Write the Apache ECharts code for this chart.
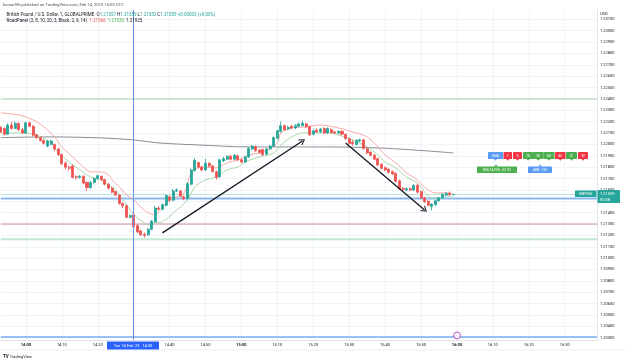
<!DOCTYPE html>
<html>
<head>
<meta charset="utf-8">
<script src="https://cdn.jsdelivr.net/npm/echarts@6/dist/echarts.min.js"></script>
<style>
  html, body { margin: 0; padding: 0; background: #fff; }
  #chart { width: 625px; height: 362px; }
</style>
</head>
<body>
<div id="chart"></div>
<script>
// 1-minute GBPUSD, 13:53 -> 15:59 candles, axis runs on to 16:39
const minutes = [];
for (let m = 13 * 60 + 53; m <= 16 * 60 + 39; m++) {
  minutes.push(String(Math.floor(m / 60)).padStart(2, '0') + ':' + String(m % 60).padStart(2, '0'));
}

// [open, close, low, high]
const candles = [
  [1.22150, 1.22110, 1.22100, 1.22160], [1.22140, 1.22090, 1.22080, 1.22150], [1.22090, 1.22170, 1.22085, 1.22185],
  [1.22170, 1.22140, 1.22130, 1.22200], [1.22140, 1.22185, 1.22135, 1.22205], [1.22185, 1.22130, 1.22120, 1.22195],
  [1.22130, 1.22100, 1.22095, 1.22145], [1.22100, 1.22190, 1.22090, 1.22200], [1.22190, 1.22160, 1.22150, 1.22200],
  [1.22160, 1.22080, 1.22070, 1.22170], [1.22085, 1.22060, 1.22050, 1.22090], [1.22060, 1.22035, 1.22025, 1.22070],
  [1.22035, 1.22010, 1.22000, 1.22045], [1.21985, 1.22030, 1.21975, 1.22040], [1.22000, 1.22030, 1.21990, 1.22040],
  [1.22000, 1.21960, 1.21940, 1.22010], [1.21960, 1.21910, 1.21900, 1.21970], [1.21910, 1.21830, 1.21820, 1.21920],
  [1.21835, 1.21800, 1.21780, 1.21850], [1.21800, 1.21790, 1.21770, 1.21810], [1.21810, 1.21710, 1.21700, 1.21820],
  [1.21715, 1.21710, 1.21690, 1.21730], [1.21710, 1.21720, 1.21700, 1.21730], [1.21720, 1.21660, 1.21650, 1.21730],
  [1.21665, 1.21620, 1.21590, 1.21675], [1.21620, 1.21665, 1.21610, 1.21680], [1.21665, 1.21700, 1.21655, 1.21710],
  [1.21700, 1.21725, 1.21690, 1.21735], [1.21720, 1.21690, 1.21680, 1.21725], [1.21690, 1.21650, 1.21640, 1.21700],
  [1.21650, 1.21615, 1.21605, 1.21660], [1.21615, 1.21580, 1.21570, 1.21625], [1.21585, 1.21555, 1.21545, 1.21590],
  [1.21555, 1.21480, 1.21470, 1.21560], [1.21480, 1.21460, 1.21440, 1.21490], [1.21460, 1.21360, 1.21350, 1.21470],
  [1.21360, 1.21375, 1.21350, 1.21385], [1.21380, 1.21275, 1.21265, 1.21390], [1.21285, 1.21230, 1.21220, 1.21300],
  [1.21240, 1.21205, 1.21195, 1.21250], [1.21210, 1.21200, 1.21180, 1.21225], [1.21205, 1.21255, 1.21195, 1.21265],
  [1.21255, 1.21325, 1.21245, 1.21335], [1.21320, 1.21440, 1.21310, 1.21460], [1.21440, 1.21430, 1.21420, 1.21455],
  [1.21430, 1.21470, 1.21420, 1.21480], [1.21465, 1.21550, 1.21455, 1.21560], [1.21540, 1.21510, 1.21495, 1.21550],
  [1.21510, 1.21590, 1.21500, 1.21610], [1.21590, 1.21600, 1.21580, 1.21615], [1.21590, 1.21545, 1.21535, 1.21600],
  [1.21540, 1.21520, 1.21510, 1.21550], [1.21525, 1.21655, 1.21515, 1.21665], [1.21650, 1.21775, 1.21640, 1.21790],
  [1.21770, 1.21860, 1.21760, 1.21880], [1.21840, 1.21800, 1.21790, 1.21850], [1.21800, 1.21775, 1.21765, 1.21810],
  [1.21775, 1.21835, 1.21770, 1.21875], [1.21835, 1.21810, 1.21800, 1.21840], [1.21810, 1.21760, 1.21755, 1.21820],
  [1.21760, 1.21710, 1.21690, 1.21770], [1.21715, 1.21865, 1.21705, 1.21875], [1.21855, 1.21875, 1.21845, 1.21890],
  [1.21870, 1.21895, 1.21860, 1.21905], [1.21895, 1.21870, 1.21860, 1.21910], [1.21870, 1.21905, 1.21860, 1.21915],
  [1.21900, 1.21865, 1.21855, 1.21910], [1.21865, 1.21845, 1.21835, 1.21875], [1.21845, 1.21890, 1.21835, 1.21900],
  [1.21890, 1.21965, 1.21880, 1.21975], [1.21960, 1.21985, 1.21950, 1.21995], [1.21980, 1.21945, 1.21935, 1.21990],
  [1.21950, 1.21930, 1.21920, 1.21960], [1.21955, 1.21910, 1.21900, 1.21965], [1.21915, 1.21960, 1.21905, 1.21970],
  [1.21960, 1.21985, 1.21950, 1.21995], [1.21985, 1.22060, 1.21975, 1.22070], [1.22055, 1.22120, 1.22045, 1.22130],
  [1.22115, 1.22165, 1.22105, 1.22200], [1.22165, 1.22130, 1.22120, 1.22175], [1.22135, 1.22150, 1.22125, 1.22165],
  [1.22160, 1.22145, 1.22135, 1.22170], [1.22145, 1.22165, 1.22135, 1.22180], [1.22160, 1.22180, 1.22150, 1.22190],
  [1.22165, 1.22185, 1.22160, 1.22210], [1.22180, 1.22155, 1.22145, 1.22190], [1.22155, 1.22085, 1.22075, 1.22165],
  [1.22090, 1.22120, 1.22080, 1.22130], [1.22125, 1.22110, 1.22100, 1.22140], [1.22110, 1.22135, 1.22100, 1.22145],
  [1.22140, 1.22100, 1.22090, 1.22150], [1.22100, 1.22140, 1.22095, 1.22150], [1.22130, 1.22105, 1.22095, 1.22140],
  [1.22110, 1.22100, 1.22090, 1.22120], [1.22100, 1.22115, 1.22090, 1.22125], [1.22115, 1.22090, 1.22080, 1.22125],
  [1.22090, 1.22050, 1.22040, 1.22095], [1.22050, 1.22010, 1.21975, 1.22060], [1.22020, 1.22005, 1.21990, 1.22040],
  [1.22000, 1.22035, 1.21990, 1.22045], [1.22030, 1.22040, 1.22020, 1.22050], [1.22040, 1.21965, 1.21955, 1.22050],
  [1.21965, 1.21925, 1.21915, 1.21975], [1.21930, 1.21905, 1.21895, 1.21940], [1.21905, 1.21870, 1.21860, 1.21915],
  [1.21875, 1.21820, 1.21810, 1.21885], [1.21825, 1.21790, 1.21780, 1.21835], [1.21795, 1.21775, 1.21765, 1.21805],
  [1.21780, 1.21755, 1.21745, 1.21790], [1.21760, 1.21740, 1.21730, 1.21770], [1.21745, 1.21675, 1.21665, 1.21755],
  [1.21680, 1.21610, 1.21600, 1.21690], [1.21615, 1.21605, 1.21590, 1.21625], [1.21600, 1.21610, 1.21590, 1.21620],
  [1.21610, 1.21600, 1.21590, 1.21620], [1.21600, 1.21640, 1.21590, 1.21650], [1.21640, 1.21580, 1.21570, 1.21655],
  [1.21585, 1.21530, 1.21520, 1.21595], [1.21530, 1.21495, 1.21485, 1.21540], [1.21500, 1.21465, 1.21455, 1.21510],
  [1.21455, 1.21475, 1.21420, 1.21480], [1.21470, 1.21505, 1.21460, 1.21515], [1.21505, 1.21530, 1.21495, 1.21540],
  [1.21530, 1.21560, 1.21520, 1.21570], [1.21555, 1.21570, 1.21545, 1.21580], [1.21570, 1.21557, 1.21550, 1.21585],
  [1.21557, 1.21559, 1.21552, 1.21559]
];

// RoadPanel bands, read at [bar index, price]
const upperBand = [
  [0, 1.22277], [5, 1.22259], [9, 1.22215], [12, 1.22154], [15, 1.22066], [17, 1.21978], [20, 1.21890],
  [23, 1.21802], [25, 1.21758], [28, 1.21758], [30, 1.21732], [31, 1.21688], [33, 1.21626], [35, 1.21556],
  [37, 1.21512], [39, 1.21450], [41, 1.21398], [43, 1.21380], [44, 1.21406], [47, 1.21512], [51, 1.21573],
  [53, 1.21749], [56, 1.21802], [60, 1.21793], [63, 1.21837], [66, 1.21863], [69, 1.21907], [73, 1.21934],
  [77, 1.22013], [78, 1.22101], [81, 1.22145], [85, 1.22154], [89, 1.22171], [94, 1.22145], [98, 1.22110],
  [102, 1.22066], [105, 1.21978], [107, 1.21907], [110, 1.21837], [113, 1.21749], [116, 1.21688],
  [118, 1.21626], [121, 1.21573], [124, 1.21573], [126, 1.21566]
];
const lowerBand = [
  [0, 1.22100], [5, 1.22100], [9, 1.22092], [14, 1.22013], [16, 1.21925], [19, 1.21846], [22, 1.21776],
  [25, 1.21714], [28, 1.21688], [30, 1.21644], [32, 1.21600], [34, 1.21512], [36, 1.21424], [38, 1.21354],
  [40, 1.21310], [41, 1.21292], [43, 1.21310], [45, 1.21319], [49, 1.21424], [52, 1.21512], [54, 1.21626],
  [57, 1.21688], [60, 1.21714], [63, 1.21776], [66, 1.21802], [68, 1.21846], [72, 1.21890], [76, 1.21925],
  [78, 1.21995], [81, 1.22066], [84, 1.22101], [88, 1.22101], [91, 1.22101], [94, 1.22083], [98, 1.22039],
  [102, 1.21978], [105, 1.21907], [107, 1.21846], [110, 1.21793], [113, 1.21714], [116, 1.21662],
  [118, 1.21582], [120, 1.21529], [122, 1.21529], [124, 1.21547], [126, 1.21530]
];
const slowLine = [
  [0, 1.22060], [14, 1.22066], [28, 1.22057], [37, 1.22039], [44, 1.22013], [55, 1.21995], [69, 1.21978],
  [91, 1.21978], [105, 1.21969], [115, 1.21951], [126, 1.21925]
];

// drawn horizontal levels and the current price
const levels = [1.22400, 1.21525, 1.21300, 1.21167, 1.20307];
const lastPrice = 1.21559;
const markedTime = '14:30';

// trend arrows [bar index, price] -> [bar index, price]
const arrows = [
  [[45, 1.21222], [84, 1.22030]],
  [[96, 1.22013], [118, 1.21424]]
];

const yTicks = [
  1.203, 1.204, 1.205, 1.206, 1.207, 1.208, 1.209, 1.210, 1.211, 1.212, 1.213, 1.214, 1.215, 1.216, 1.217,
  1.218, 1.219, 1.220, 1.221, 1.222, 1.223, 1.224, 1.225, 1.226, 1.227, 1.228, 1.229, 1.230, 1.231
];

const UP = '#26a69a', DOWN = '#ef5350';
const FONT = 'Roboto';
const isTenMin = (i, v) => Number(v.slice(3)) % 10 === 0;
const lastIndex = minutes.length - 1;

const levelStyles = [
  { color: '#a5d6a7', width: 1 },
  { color: '#8ab8f2', width: 2 },
  { color: '#c98ba6', width: 1 },
  { color: '#bdebd3', width: 2 },
  { color: '#7aaef2', width: 1.5 }
];

const chevron = 'path://M5,0 L10,8.6 L8.8,9.4 L5,2.6 L1.2,9.4 L0,8.6 Z';

const chart = echarts.init(document.getElementById('chart'), null, { renderer: 'canvas' });

// TradingView style overlays (legend text, panel, tags)
const txt = (x, y, text, o) => Object.assign({
  type: 'text', x: x, y: y, z: 100,
  style: Object.assign({ text: text, fill: '#131722', fontSize: 4, fontFamily: FONT, verticalAlign: 'middle' }, o || {})
});
const box = (x, y, w, h, fill) => ({ type: 'rect', z: 99, shape: { x: x, y: y, width: w, height: h, r: 0.6 }, style: { fill: fill } });

const panel = [
  ['SMA', 488, 15, '#5b9cf6'], ['1', 503.5, 8.5, '#f23645'], ['5', 513, 9, '#f23645'],
  ['15', 523, 10, '#4caf50'], ['30', 533, 10.5, '#4caf50'], ['60', 543.5, 11, '#4caf50'],
  ['4h', 555, 10.5, '#f23645'], ['D', 566, 11, '#4caf50'], ['W', 578, 10, '#f23645']
];
const panelGraphics = [];
panel.forEach(p => {
  panelGraphics.push(box(p[1], 152, p[2], 7, p[3]));
  panelGraphics.push({ type: 'polygon', z: 99, shape: { points: [[p[1] + p[2] / 2 - 1.5, 159], [p[1] + p[2] / 2 + 1.5, 159], [p[1] + p[2] / 2, 160.8]] }, style: { fill: p[3] } });
  panelGraphics.push(txt(p[1] + p[2] / 2, 155.6, p[0], { fill: '#fff', align: 'center', fontSize: 3.6 }));
});
panelGraphics.push(box(477, 166.5, 40, 6.5, '#4caf50'));
panelGraphics.push({ type: 'polygon', z: 99, shape: { points: [[494, 166.6], [498, 166.6], [496, 164.6]] }, style: { fill: '#4caf50' } });
panelGraphics.push(txt(497, 169.8, 'RSI(14/59): 52.92', { fill: '#fff', align: 'center', fontSize: 3.6 }));
panelGraphics.push(box(528, 166.5, 24, 6.5, '#5b9cf6'));
panelGraphics.push({ type: 'polygon', z: 99, shape: { points: [[538, 166.6], [542, 166.6], [540, 164.6]] }, style: { fill: '#5b9cf6' } });
panelGraphics.push(txt(540, 169.8, 'ADR: 133', { fill: '#fff', align: 'center', fontSize: 3.6 }));

// full-width horizontal lines, drawn as two-point line series
const levelSeries = levels.map((v, k) => ({
  type: 'line',
  data: [[0, v], [lastIndex, v]],
  showSymbol: false,
  silent: true,
  z: 1,
  lineStyle: { color: levelStyles[k].color, width: levelStyles[k].width }
}));
levelSeries.push({
  type: 'line',
  data: [[0, lastPrice], [lastIndex, lastPrice]],
  showSymbol: false,
  silent: true,
  z: 1,
  lineStyle: { color: '#b9e2de', width: 1 }
});

const option = {
  animation: false,
  backgroundColor: '#ffffff',
  grid: { left: 0.8, right: 28, top: 10, bottom: 22, outerBoundsMode: 'none' },
  xAxis: {
    type: 'category',
    data: minutes,
    boundaryGap: false,
    axisLine: { lineStyle: { color: '#e0e3eb', width: 1 } },
    axisTick: { show: false },
    axisLabel: {
      interval: (i, v) => isTenMin(i, v) && v !== markedTime,
      margin: 3,
      fontSize: 4,
      fontFamily: FONT,
      color: '#131722',
      formatter: v => v.endsWith(':00') ? '{b|' + v + '}' : v,
      rich: { b: { fontSize: 4, fontWeight: 'bold', fontFamily: FONT, color: '#131722' } }
    },
    splitLine: { show: true, interval: isTenMin, lineStyle: { color: '#f0f3fa', width: 1 } }
  },
  yAxis: {
    type: 'value',
    position: 'right',
    min: 1.20280,
    max: 1.23182,
    axisLine: { show: true, lineStyle: { color: '#e0e3eb' } },
    axisTick: { show: false, customValues: yTicks },
    axisLabel: {
      customValues: yTicks,
      margin: 3,
      fontSize: 4,
      fontFamily: FONT,
      color: '#131722',
      formatter: v => v.toFixed(5)
    },
    splitLine: { show: true, lineStyle: { color: '#f0f3fa', width: 1 } }
  },
  series: [
    ...levelSeries,
    {
      type: 'line',
      data: slowLine,
      showSymbol: false,
      smooth: 0.3,
      lineStyle: { color: '#8a8c93', width: 1 },
      z: 1,
      silent: true
    },
    {
      type: 'candlestick',
      data: candles,
      barWidth: '70%',
      itemStyle: { color: UP, color0: DOWN, borderColor: UP, borderColor0: DOWN, borderWidth: 0.8 },
      z: 3,
      markLine: {
        silent: true,
        symbol: ['none', 'none'],
        label: { show: false },
        emphasis: { disabled: true },
        data: [
          { xAxis: markedTime, lineStyle: { color: '#6a90e8', width: 1, type: 'solid' } },
          ...arrows.map(a => [
            { coord: a[0], symbol: 'none', lineStyle: { color: '#131722', width: 1.3, type: 'solid' } },
            { coord: a[1], symbol: chevron, symbolSize: [7, 6] }
          ])
        ]
      }
    },
    {
      type: 'line',
      data: upperBand,
      showSymbol: false,
      smooth: 0.3,
      lineStyle: { color: '#f5a9a6', width: 1 },
      z: 2,
      silent: true
    },
    {
      type: 'line',
      data: lowerBand,
      showSymbol: false,
      smooth: 0.3,
      lineStyle: { color: '#a8d8a9', width: 1 },
      z: 2,
      silent: true
    }
  ],
  graphic: [
    txt(3, 5, 'kumar98 published on TradingView.com, Feb 14, 2023 16:00 UTC', { fill: '#50535e', fontSize: 4.2 }),
    txt(6.5, 14.5, '{n|British Pound / U.S. Dollar, 1, GLOBALPRIME  O}{g|1.21557} {n|H}{g|1.21559} {n|L}{g|1.21552} {n|C}{g|1.21559} {g|+0.00003 (+0.00%)}', {
      rich: {
        n: { fontSize: 4.5, fontFamily: FONT, fill: '#131722' },
        g: { fontSize: 4.5, fontFamily: FONT, fill: UP }
      }
    }),
    txt(6.5, 20.8, '{n|RoadPanel (2, 8, 10, 20, 3, Black, 2, 9, 14)  }{r|1.21566}  {g|1.21530}  {k|1.21925}', {
      rich: {
        n: { fontSize: 4.5, fontFamily: FONT, fill: '#131722' },
        r: { fontSize: 4.5, fontFamily: FONT, fill: DOWN },
        g: { fontSize: 4.5, fontFamily: FONT, fill: '#4caf50' },
        k: { fontSize: 4.5, fontFamily: FONT, fill: '#131722' }
      }
    }),
    { type: 'rect', z: 98, shape: { x: 598, y: 9, width: 27, height: 8 }, style: { fill: '#fff' } },
    txt(600, 13.5, 'USD', { fontSize: 4 }),
    // last price tags
    box(575, 190.5, 21.5, 6.5, UP),
    txt(585.7, 193.9, 'GBPUSD', { fill: '#fff', align: 'center', fontSize: 3.5 }),
    box(597.5, 190, 22.5, 13, UP),
    txt(600, 193.6, '1.21559', { fill: '#fff', fontSize: 4 }),
    txt(600, 199.6, '00:58', { fill: '#fff', fontSize: 4 }),
    // crosshair time tag
    box(107, 341.5, 52, 8, '#2962ff'),
    txt(133, 345.6, "Tue 14 Feb '23   14:30", { fill: '#fff', align: 'center', fontSize: 4 }),
    { type: 'circle', z: 100, shape: { cx: 457, cy: 335.5, r: 3.4 }, style: { fill: '#fff', stroke: '#9c27b0', lineWidth: 0.8 } },
    txt(457, 335.7, 'ϟ', { fill: '#9c27b0', align: 'center', fontSize: 4.5 }),
    { type: 'line', z: 1, shape: { x1: 0, y1: 350, x2: 625, y2: 350 }, style: { stroke: '#e0e3eb', lineWidth: 0.6 } },
    txt(3, 356.5, '{l|TV} {t|TradingView}', {
      rich: {
        l: { fontSize: 4.5, fontWeight: 'bold', fontFamily: FONT, fill: '#131722' },
        t: { fontSize: 4, fontFamily: FONT, fill: '#131722' }
      }
    }),
    ...panelGraphics
  ]
};

chart.setOption(option);
window.addEventListener('resize', () => chart.resize());
</script>
</body>
</html>
